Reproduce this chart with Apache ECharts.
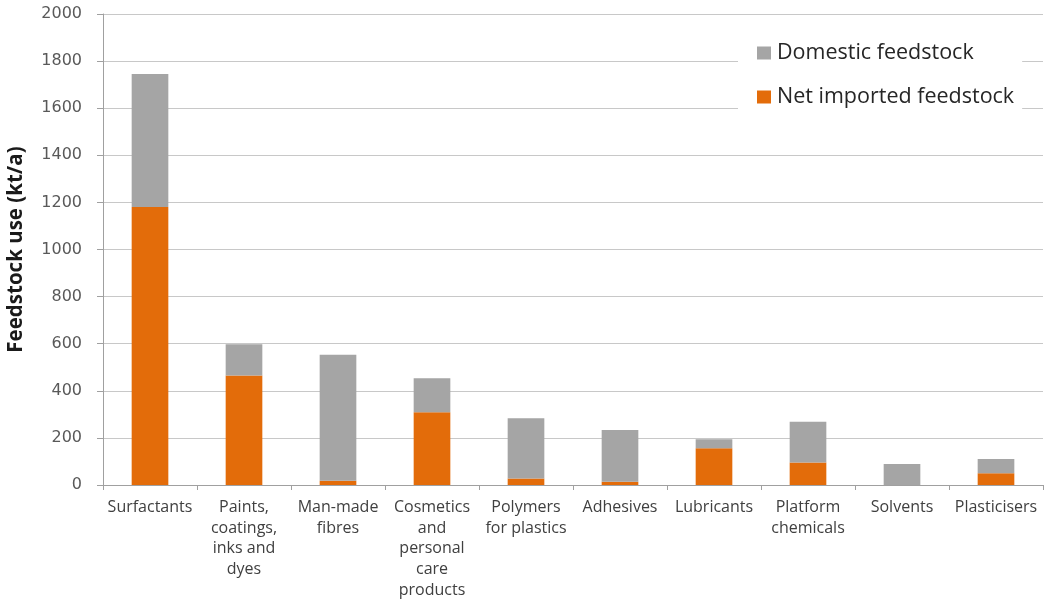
<!DOCTYPE html>
<html>
<head>
<meta charset="utf-8">
<title>Feedstock use by product group</title>
<script src="https://cdn.jsdelivr.net/npm/echarts@6/dist/echarts.min.js"></script>
<style>
  html, body { margin: 0; padding: 0; background: #ffffff; }
  #chart { width: 1045px; height: 599px; }
</style>
</head>
<body>
<div id="chart"></div>
<script>
// Product groups along the x axis (line breaks as printed)
const categories = [
  'Surfactants',
  'Paints,\ncoatings,\ninks and\ndyes',
  'Man-made\nfibres',
  'Cosmetics\nand\npersonal\ncare\nproducts',
  'Polymers\nfor plastics',
  'Adhesives',
  'Lubricants',
  'Platform\nchemicals',
  'Solvents',
  'Plasticisers'
];

// Feedstock use in kt/a, stacked: net imported at the bottom, domestic on top
const netImported = [1180, 465, 18, 309, 28, 14, 156, 96, 0, 50];
const domestic    = [565, 133, 535, 144, 255, 220, 38, 173, 89, 60];

// Value axis ticks
const yMin = 0;
const yMax = 2000;
const yStep = 200;

const seriesNames = ['Domestic feedstock', 'Net imported feedstock'];
const colors = { domestic: '#a5a5a5', imported: '#e36c0a' };

const chart = echarts.init(document.getElementById('chart'), null, { renderer: 'canvas' });

chart.setOption({
  animation: false,
  backgroundColor: '#ffffff',
  grid: {
    left: 103, right: 2, top: 14, bottom: 114,
    containLabel: false,
    outerBoundsMode: 'none'
  },
  legend: {
    data: seriesNames,
    orient: 'vertical',
    left: 738,
    top: 30,
    padding: [12, 8, 12, 19],
    itemGap: 22,
    itemWidth: 14,
    itemHeight: 13,
    backgroundColor: '#ffffff',
    icon: 'rect',
    textStyle: { fontFamily: 'Open Sans', fontSize: 21.5, color: '#262626', padding: [0, 0, 0, 1] }
  },
  xAxis: {
    type: 'category',
    data: categories,
    axisLine: { lineStyle: { color: '#a0a0a0', width: 1 } },
    axisTick: { show: true, length: 5, lineStyle: { color: '#a0a0a0' } },
    axisLabel: {
      interval: 0,
      margin: 12,
      fontFamily: 'Open Sans',
      fontSize: 16,
      lineHeight: 20.7,
      color: '#404040',
      align: 'center'
    }
  },
  yAxis: {
    type: 'value',
    min: yMin,
    max: yMax,
    interval: yStep,
    name: 'Feedstock use (kt/a)',
    nameLocation: 'middle',
    nameGap: 76,
    nameTextStyle: { fontFamily: 'Open Sans', fontSize: 20.5, fontWeight: 'bold', color: '#1a1a1a' },
    axisLine: { show: true, lineStyle: { color: '#a0a0a0', width: 1 } },
    axisTick: { show: true, length: 6, lineStyle: { color: '#a0a0a0' } },
    axisLabel: {
      margin: 21,
      fontFamily: 'DejaVu Sans',
      fontSize: 16,
      color: '#595959',
      formatter: (v) => String(v)
    },
    splitLine: { show: true, lineStyle: { color: '#c8c8c8', width: 1 } }
  },
  series: [
    {
      name: seriesNames[1],
      type: 'bar',
      stack: 'total',
      barWidth: '39%',
      data: netImported,
      itemStyle: { color: colors.imported }
    },
    {
      name: seriesNames[0],
      type: 'bar',
      stack: 'total',
      barWidth: '39%',
      data: domestic,
      itemStyle: { color: colors.domestic }
    }
  ]
});
</script>
</body>
</html>
